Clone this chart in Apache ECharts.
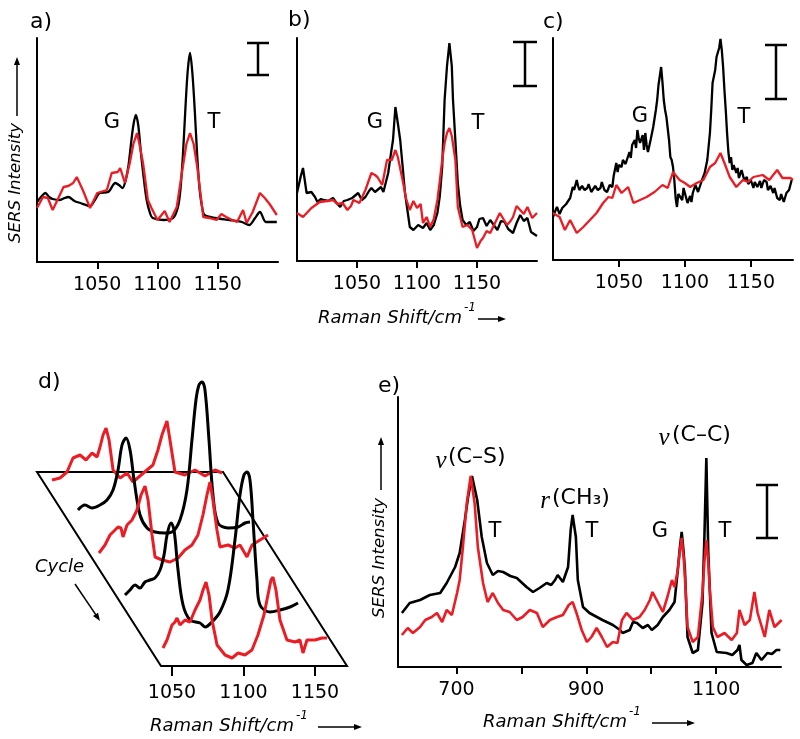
<!DOCTYPE html>
<html><head><meta charset="utf-8">
<script src="https://cdn.jsdelivr.net/npm/echarts@6/dist/echarts.min.js"></script>
<style>html,body{margin:0;padding:0;background:#fff}#c{width:800px;height:739px}</style>
</head><body><div id="c"></div>
<script>
// ---------- DATA (Raman shift in cm-1, SERS intensity in arbitrary units) ----------
const topTicks = [1050, 1100, 1150];
const dTicks = [1050, 1100, 1150];
const eTicks = [700, 800, 900, 1000, 1100];
const eTickLabels = [700, 900, 1100];

const aBlack = [[1000,60],[1004,66],[1007,69],[1010,65],[1013,63],[1019,62],[1023,64],[1026,65],[1031,61],[1036,59],[1044,56],[1048,62],[1052,69],[1059,70],[1065,79],[1068,77],[1071,74],[1074,84],[1076,97],[1078,118],[1080,137],[1082,147],[1084,137],[1086,112],[1088,90],[1091,62],[1094,48],[1096,44],[1105,42],[1113,44],[1117,55],[1119,72],[1121,105],[1123,150],[1125,190],[1127,209],[1129,188],[1131,150],[1133,105],[1135,72],[1137,55],[1139,47],[1148,44],[1160,42],[1170,40],[1176,37],[1181,44],[1185,50],[1190,40],[1199,40]];
const aRed = [[1000,54],[1005,65],[1009,64],[1013,52],[1017,62],[1022,75],[1026,76],[1030,79],[1033,85],[1038,72],[1044,54],[1050,69],[1058,72],[1062,89],[1067,90],[1069,94],[1073,79],[1077,99],[1080,118],[1083,129],[1085,118],[1088,99],[1092,62],[1095,54],[1100,42],[1106,51],[1110,40],[1116,55],[1121,95],[1124,118],[1127,129],[1130,118],[1133,95],[1138,45],[1143,44],[1149,42],[1153,48],[1157,45],[1162,42],[1166,40],[1171,52],[1174,39],[1179,50],[1185,69],[1189,64],[1193,58],[1199,47]];

const bBlack = [[1000,68],[1003,84],[1005,93],[1008,68],[1012,69],[1015,64],[1017,59],[1020,62],[1022,61],[1026,60],[1030,63],[1033,58],[1036,54],[1039,60],[1042,61],[1046,63],[1051,68],[1054,61],[1057,64],[1060,70],[1062,73],[1065,69],[1067,71],[1070,74],[1072,69],[1076,88],[1078,105],[1080,121],[1082,154],[1084,138],[1086,121],[1088,95],[1090,68],[1094,34],[1097,31],[1101,36],[1105,33],[1108,38],[1111,31],[1114,36],[1117,48],[1119,65],[1121,94],[1123,161],[1125,195],[1127,218],[1129,195],[1130,161],[1132,120],[1134,78],[1136,55],[1138,41],[1141,36],[1144,39],[1147,30],[1150,34],[1152,42],[1155,43],[1158,35],[1161,41],[1164,36],[1167,31],[1170,40],[1173,39],[1176,32],[1180,28],[1183,38],[1186,46],[1189,40],[1192,43],[1195,29],[1200,25]];
const bRed = [[1000,48],[1005,44],[1012,53],[1019,59],[1025,60],[1030,61],[1034,57],[1038,58],[1042,51],[1045,55],[1047,61],[1052,58],[1057,71],[1062,88],[1065,86],[1067,84],[1071,76],[1075,101],[1079,101],[1082,111],[1084,104],[1088,81],[1091,62],[1094,51],[1097,60],[1100,53],[1103,57],[1105,38],[1108,44],[1111,34],[1114,42],[1117,61],[1119,80],[1121,101],[1123,118],[1125,128],[1127,133],[1129,125],[1132,101],[1134,54],[1138,34],[1142,36],[1146,31],[1148,22],[1150,13],[1153,20],[1155,23],[1158,30],[1161,28],[1165,38],[1169,48],[1172,42],[1175,36],[1178,40],[1180,44],[1183,55],[1186,51],[1189,47],[1192,54],[1196,43],[1200,48]];

const cBlack = [[1000,43],[1002,50],[1003,53],[1005,46],[1007,52],[1008,50],[1010,56],[1011,57],[1013,62],[1015,73],[1016,70],[1018,80],[1019,74],[1020,70],[1022,74],[1024,70],[1026,72],[1027,76],[1029,68],[1030,68],[1032,74],[1034,70],[1036,72],[1037,78],[1039,70],[1041,68],[1043,75],[1045,73],[1046,84],[1048,97],[1049,88],[1050,95],[1052,93],[1053,100],[1055,96],[1056,100],[1058,108],[1059,102],[1060,115],[1062,120],[1063,112],[1064,130],[1065,122],[1066,117],[1068,125],[1069,110],[1070,127],[1071,115],[1072,108],[1074,120],[1076,133],[1078,150],[1079,160],[1080,175],[1082,193],[1083,178],[1084,160],[1085,150],[1086,143],[1088,120],[1089,103],[1090,100],[1091,93],[1092,80],[1093,62],[1094,53],[1095,66],[1096,67],[1098,60],[1099,72],[1101,62],[1102,57],[1104,64],[1105,58],[1106,67],[1108,75],[1110,68],[1111,70],[1113,80],[1115,87],[1117,100],[1119,127],[1120,150],[1121,177],[1123,190],[1124,203],[1126,212],[1127,221],[1128,210],[1129,193],[1130,170],[1131,150],[1132,127],[1133,108],[1134,97],[1135,103],[1136,90],[1137,95],[1139,87],[1140,92],[1141,82],[1143,90],[1145,80],[1147,83],[1148,76],[1150,80],[1152,72],[1153,78],[1155,73],[1157,79],[1158,72],[1160,80],[1162,78],[1163,70],[1165,74],[1167,67],[1168,72],[1170,62],[1172,60],[1173,66],[1175,58],[1177,67],[1179,70],[1181,80]];
const cRed = [[1000,47],[1005,43],[1009,30],[1013,40],[1018,27],[1023,33],[1028,40],[1033,47],[1038,57],[1042,63],[1045,62],[1048,75],[1052,67],[1057,73],[1061,57],[1066,60],[1071,63],[1077,68],[1083,75],[1087,72],[1091,88],[1096,80],[1100,77],[1104,73],[1109,77],[1114,80],[1119,93],[1123,97],[1127,107],[1130,97],[1134,83],[1139,73],[1144,80],[1148,78],[1152,83],[1159,85],[1164,80],[1170,90],[1174,82],[1180,82],[1182,80]];

// panel d: five spectra recorded over successive cycles (back to front)
const dCycle1 = [[1043.7,18],[1049.3,20],[1054.2,26],[1058.4,40],[1063.3,43],[1067.5,38],[1071.7,45],[1075.2,41],[1077.3,51],[1079.4,63],[1081.5,70],[1083.6,58],[1086.4,28],[1091.3,20],[1096.2,25],[1100.3,16],[1105.2,22],[1110.1,28],[1114.3,33],[1117.8,48],[1120.6,63],[1124.1,77],[1126.2,58],[1129.7,26],[1136.7,23],[1143.7,28],[1150.7,22],[1157.7,28],[1162.6,25]];
const dCycle2 = [[1043.7,18],[1048.6,23],[1053.5,20],[1059.1,23],[1064,28],[1068.2,38],[1071.7,58],[1074.5,83],[1077.3,90],[1080.1,78],[1082.9,48],[1087.1,13],[1092,0],[1097.6,-4],[1104.5,-5],[1109.4,-4],[1115,8],[1119.9,38],[1123.4,88],[1126.2,128],[1128.3,143],[1130.4,146],[1132.5,138],[1135.3,88],[1138.1,33],[1141.6,5],[1148.6,0],[1155.6,1],[1160.5,5],[1164,6]];
const dCycle3 = [[1043.7,18],[1047.9,26],[1051.4,36],[1054.9,41],[1057,44],[1059.1,43],[1060.5,34],[1063.3,46],[1066.8,51],[1070.3,61],[1073.1,76],[1075.9,85],[1078,71],[1080.8,36],[1082.9,14],[1087.8,11],[1093.4,9],[1099,13],[1103.8,21],[1108.7,26],[1112.9,36],[1116.4,56],[1119.2,76],[1121.3,89],[1123.4,71],[1126.2,41],[1128.3,24],[1133.9,26],[1138.8,23],[1142.3,26],[1147.2,14],[1150.7,26],[1156.3,31],[1161.9,36]];
const dCycle4 = [[1043.7,18],[1047.2,23],[1050.7,28],[1054.2,25],[1057.7,31],[1061.2,33],[1064.7,35],[1068.2,43],[1071,58],[1073.1,78],[1075.9,90],[1078,83],[1080.8,43],[1084.3,8],[1089.2,-7],[1096.2,-10],[1099.7,-14],[1104.5,-9],[1110.1,1],[1115.7,23],[1120.6,73],[1124.1,118],[1126.9,138],[1129,141],[1131.1,133],[1133.2,93],[1136,33],[1138.1,8],[1145.1,1],[1152.1,3],[1159.1,6],[1164.7,10]];
const dCycle5 = [[1043.7,18],[1046.5,26],[1050,41],[1052.1,44],[1053.5,48],[1055.6,41],[1059.1,46],[1062.6,44],[1066.1,56],[1069.6,66],[1071.7,76],[1073.8,84],[1075.9,71],[1078,46],[1081.5,21],[1087.1,11],[1092,8],[1096.2,13],[1101,11],[1105.9,16],[1110.1,31],[1114.3,51],[1117.1,71],[1119.2,86],[1120.6,89],[1122.7,76],[1125.5,46],[1130.4,26],[1136,24],[1139.5,26],[1141.6,13],[1144.4,26],[1150,26],[1154.9,28],[1158.4,28]];

const eBlack = [[616,54],[628,64],[644,67],[659,72],[675,74],[685,84],[698,100],[705,114],[713,147],[718,170],[724,191],[732,167],[739,130],[747,104],[756,92],[764,96],[772,95],[783,91],[793,89],[808,80],[818,75],[828,79],[839,84],[846,82],[852,87],[856,92],[864,85],[872,100],[876,137],[879,152],[884,130],[887,87],[895,60],[905,54],[925,47],[941,42],[952,37],[956,34],[967,37],[972,45],[978,44],[987,39],[995,42],[1001,37],[1010,42],[1018,50],[1028,57],[1036,65],[1041,97],[1044,118],[1047,135],[1050,115],[1052,97],[1056,30],[1064,14],[1072,17],[1079,64],[1082,130],[1085,209],[1088,114],[1093,34],[1101,15],[1116,14],[1125,12],[1133,17],[1136,22],[1139,7],[1147,2],[1156,4],[1162,14],[1170,7],[1179,14],[1186,13],[1193,17],[1199,17]];
const eRed = [[616,32],[625,39],[633,34],[644,40],[652,47],[662,50],[670,54],[678,45],[685,57],[693,52],[701,74],[705,87],[710,120],[716,164],[722,191],[728,164],[733,120],[741,84],[748,65],[756,74],[764,64],[772,57],[782,55],[793,47],[802,50],[813,57],[824,54],[833,40],[844,47],[855,50],[864,52],[873,62],[879,65],[885,54],[893,37],[901,25],[908,30],[916,39],[924,30],[932,20],[941,25],[948,24],[955,47],[962,54],[972,47],[982,50],[990,57],[998,67],[1002,75],[1010,65],[1018,55],[1025,70],[1032,87],[1036,80],[1041,97],[1044,115],[1047,129],[1050,110],[1052,90],[1056,40],[1064,25],[1072,30],[1079,74],[1082,105],[1085,127],[1088,105],[1090,80],[1095,40],[1102,30],[1113,34],[1124,27],[1132,34],[1136,57],[1144,42],[1152,47],[1159,75],[1164,54],[1175,30],[1182,57],[1190,40],[1201,47]];

// ---------- BUILD ----------
const FONT = 'DejaVu Sans', RED = '#ec1c24', BLK = '#000000';
const grids = [], xAxes = [], yAxes = [], series = [];

function addGrid(g, xr, yr, o) {
  const i = grids.length;
  grids.push(Object.assign({containLabel: false}, g));
  xAxes.push({
    type: 'value', gridIndex: i, min: xr[0], max: xr[1], show: o.xShow,
    axisLine: {show: o.xLine, onZero: false, lineStyle: {color: BLK, width: 2}},
    axisTick: {show: !!o.ticks, inside: false, length: o.tickLen || 7, customValues: o.ticks || [], lineStyle: {color: BLK, width: 2}},
    axisLabel: {show: !!o.labels, customValues: o.labels || [], color: BLK, fontSize: 19, fontFamily: FONT, margin: o.margin || 14,
      formatter: function (v) { return String(v); }},
    splitLine: {show: false}
  });
  yAxes.push({
    type: 'value', gridIndex: i, min: yr[0], max: yr[1], show: o.yShow,
    axisLine: {show: true, onZero: false, lineStyle: {color: BLK, width: 2}},
    axisTick: {show: false}, axisLabel: {show: false}, splitLine: {show: false}
  });
  return i;
}
function addLine(i, data, color, width, smooth) {
  series.push({type: 'line', xAxisIndex: i, yAxisIndex: i, data: data, symbol: 'none', showSymbol: false,
    smooth: smooth || false, clip: false, silent: true, lineStyle: {color: color, width: width}, z: 2 + series.length * 0.01});
}
const vis = {xShow: true, yShow: true, xLine: true};

const ga = addGrid({left: 37, top: 38, width: 241, height: 224}, [1000, 1200], [0, 224], Object.assign({ticks: topTicks, labels: topTicks}, vis));
addLine(ga, aBlack, BLK, 2.3, 0.3); addLine(ga, aRed, RED, 2.3);
const gb = addGrid({left: 297, top: 38, width: 240, height: 223}, [1000, 1200], [0, 223], Object.assign({ticks: topTicks, labels: topTicks}, vis));
addLine(gb, bBlack, BLK, 2.3); addLine(gb, bRed, RED, 2.3);
const gc = addGrid({left: 553, top: 38, width: 240, height: 222}, [1000, 1182], [0, 222], Object.assign({ticks: topTicks, labels: topTicks}, vis));
addLine(gc, cBlack, BLK, 2.3); addLine(gc, cRed, RED, 2.3);
const ge = addGrid({left: 398, top: 397, width: 383, height: 270}, [610, 1200], [0, 270], Object.assign({ticks: eTicks, labels: eTickLabels}, vis));
addLine(ge, eBlack, BLK, 2.6); addLine(ge, eRed, RED, 2.6);

// panel d: each cycle in its own (hidden) frame, shifted along the cycle direction
const dFrames = [
  {left: 18.1, top: 348, yr: [-50, 150], data: dCycle1, color: RED, smooth: false},
  {left: 44.1, top: 378, yr: [-50, 150], data: dCycle2, color: BLK, smooth: 0.35},
  {left: 65.1, top: 421, yr: [-50, 150], data: dCycle3, color: RED, smooth: false},
  {left: 91.1, top: 463, yr: [-50, 150], data: dCycle4, color: BLK, smooth: 0.35},
  {left: 129.1, top: 466, yr: [0, 200], data: dCycle5, color: RED, smooth: false}
];
dFrames.forEach((f, k) => {
  const last = k === dFrames.length - 1;
  const gi = addGrid({left: f.left, top: f.top, width: 257.4, height: 200}, [1020, 1200], f.yr,
    {xShow: last, yShow: false, xLine: false, ticks: last ? dTicks : null, labels: last ? dTicks : null, tickLen: 10, margin: 18});
  addLine(gi, f.data, f.color, 3, f.smooth);
});

// ---------- ANNOTATIONS ----------
const G = [];
function txt(s, x, y, size, o) {
  o = o || {};
  G.push({type: 'text', x: x, y: y, rotation: o.rot || 0, z: 10,
    style: {text: s, fill: BLK, fontSize: size, fontFamily: o.family || FONT, fontStyle: o.italic ? 'italic' : 'normal',
      align: o.align || 'center', verticalAlign: 'middle', textAlign: o.align || 'center', textVerticalAlign: 'middle'}});
}
function line(x1, y1, x2, y2, w) {
  G.push({type: 'line', z: 10, shape: {x1: x1, y1: y1, x2: x2, y2: y2}, style: {stroke: BLK, lineWidth: w || 2}});
}
function arrow(x1, y1, x2, y2, w, h) {
  h = h || 8;
  const dx = x2 - x1, dy = y2 - y1, L = Math.hypot(dx, dy), ux = dx / L, uy = dy / L;
  const bx = x2 - ux * h, by = y2 - uy * h;
  line(x1, y1, bx + ux * 1, by + uy * 1, w || 1.5);
  G.push({type: 'polygon', z: 10, shape: {points: [[x2, y2], [bx - uy * h * 0.38, by + ux * h * 0.38], [bx + uy * h * 0.38, by - ux * h * 0.38]]}, style: {fill: BLK}});
}
function scaleBar(cx, y1, y2, w) {
  line(cx, y1, cx, y2, 2.5); line(cx - w / 2, y1, cx + w / 2, y1, 2.5); line(cx - w / 2, y2, cx + w / 2, y2, 2.5);
}
const ctx = document.createElement('canvas').getContext('2d');
function ramanLabel(x, y, arrowX1, arrowX2) {
  const f = 18;
  ctx.font = 'italic ' + f + 'px ' + FONT;
  const w = ctx.measureText('Raman Shift/cm').width;
  txt('Raman Shift/cm', x, y, f, {italic: true, align: 'left'});
  txt('-1', x + w + 2, y - 10, 12, {italic: true, align: 'left'});
  arrow(arrowX1, y + 1, arrowX2, y + 1, 1.5, 8);
}

// panel letters
txt('a)', 30, 22, 22, {align: 'left'});
txt('b)', 288, 20, 22, {align: 'left'});
txt('c)', 543, 22, 22, {align: 'left'});
txt('d)', 38, 382, 22, {align: 'left'});
txt('e)', 378, 386, 22, {align: 'left'});

// band labels
txt('G', 112, 123, 21); txt('T', 214, 123, 21);
txt('G', 375, 123, 21); txt('T', 478, 124, 21);
txt('G', 640, 117, 21); txt('T', 744, 118, 21);
txt('T', 495, 532, 21); txt('T', 592, 532, 21); txt('G', 660, 532, 21); txt('T', 725, 532, 21);

txt('\u03bd', 441, 461, 25, {italic: true, family: 'Liberation Serif'});
txt('(C\u2013S)', 448, 457, 22, {align: 'left'});
txt('r', 545, 501, 25, {italic: true, family: 'Liberation Serif'});
txt('(CH\u2083)', 552, 498, 22, {align: 'left'});
txt('\u03bd', 664, 438, 25, {italic: true, family: 'Liberation Serif'});
txt('(C\u2013C)', 672, 435, 22, {align: 'left'});

// scale bars
scaleBar(258, 43, 75, 22);
scaleBar(525, 42, 86, 24);
scaleBar(776, 45, 99, 22);
scaleBar(767, 485, 538, 22);

// axis captions
txt('SERS Intensity', 16, 183, 16.5, {italic: true, rot: Math.PI / 2});
arrow(17, 116, 17, 57, 1.5, 8);
txt('SERS Intensity', 380, 558, 16.5, {italic: true, rot: Math.PI / 2});
arrow(381, 490, 381, 437, 1.5, 8);
ramanLabel(318, 318, 478, 506);
ramanLabel(150, 726, 318, 362);
ramanLabel(483, 722, 652, 695);

// panel d frame and cycle marker
G.push({type: 'polygon', z: 0, shape: {points: [[37, 472], [223, 472], [347, 666], [161, 666]]}, style: {fill: 'none', stroke: BLK, lineWidth: 2}});
txt('Cycle', 35, 567, 18, {italic: true, align: 'left'});
arrow(75, 584, 100, 621, 1.5, 8);

const chart = echarts.init(document.getElementById('c'), null, {renderer: 'canvas', width: 800, height: 739});
chart.setOption({
  backgroundColor: '#ffffff', animation: false,
  grid: grids, xAxis: xAxes, yAxis: yAxes, series: series,
  graphic: {elements: G}
});
</script></body></html>
